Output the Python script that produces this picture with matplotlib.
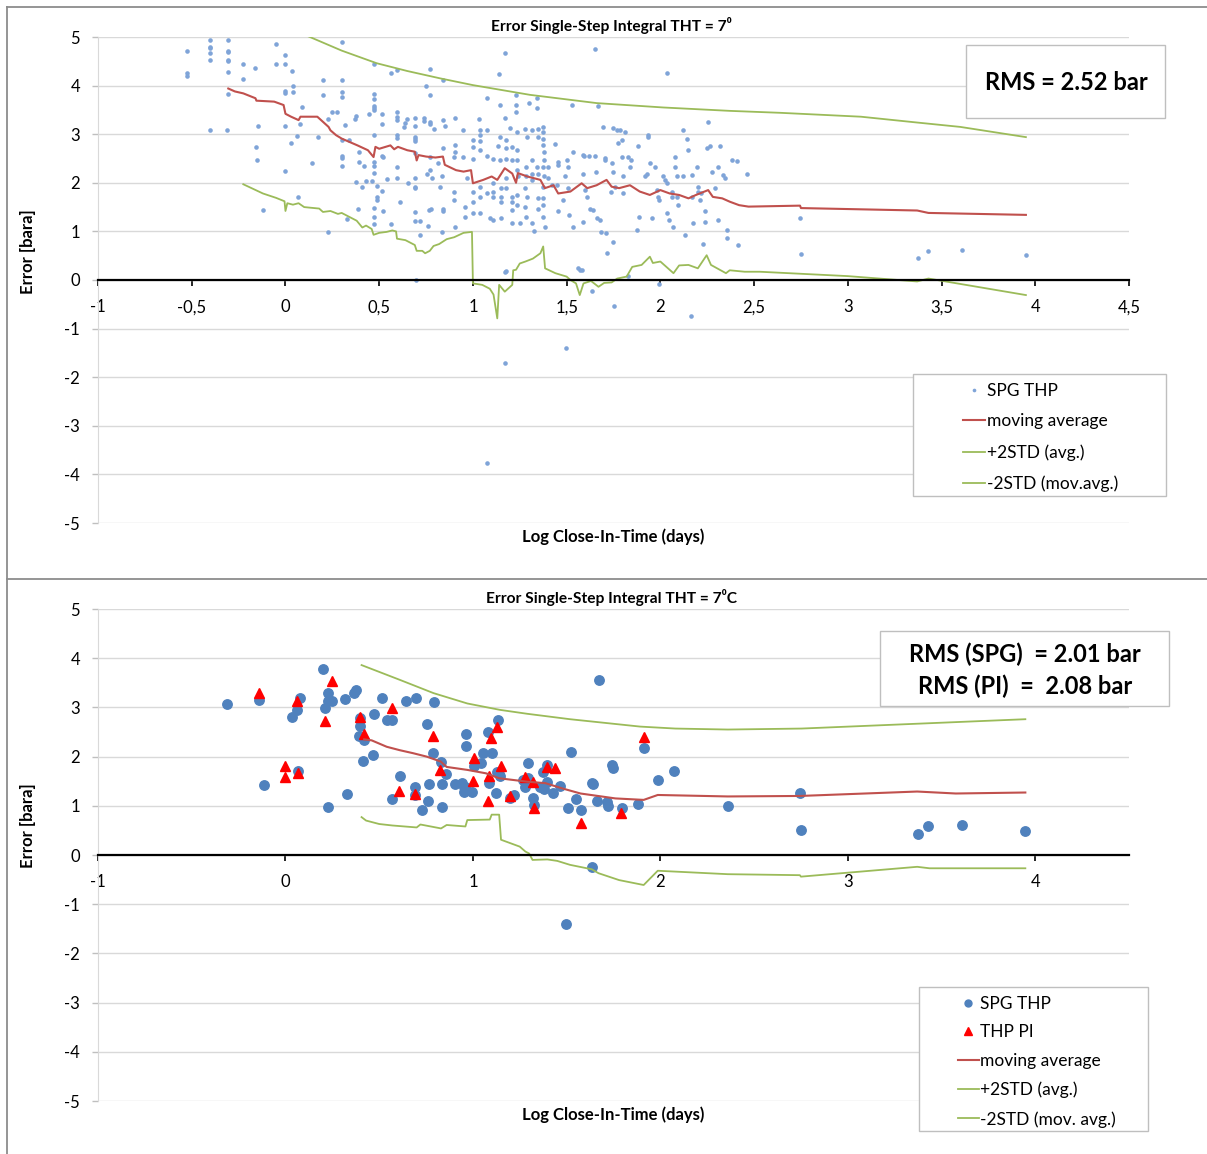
import matplotlib
matplotlib.use('Agg')
import matplotlib.pyplot as plt
from matplotlib.patches import Rectangle
from matplotlib.lines import Line2D

plt.rcParams['font.family'] = ['Lato', 'DejaVu Sans']

# ---- top chart: SPG THP error (all points) ----
top_pts = [
    (-0.525, 4.71), (-0.525, 4.25), (-0.525, 4.20),
    (-0.40, 4.94), (-0.40, 4.80), (-0.40, 4.77), (-0.40, 4.67), (-0.40, 4.53), (-0.40, 3.08),
    (-0.305, 4.94), (-0.305, 4.71), (-0.305, 4.69), (-0.305, 4.53), (-0.305, 4.50), (-0.305, 4.28),
    (-0.305, 3.83), (-0.31, 3.08),
    (-0.225, 4.44), (-0.225, 4.14), (-0.16, 4.37), (-0.155, 2.74), (-0.15, 2.46), (-0.145, 3.17),
    (-0.118, 1.45), (-0.05, 4.85), (-0.05, 4.44), (0.0, 4.63), (0.0, 4.44), (0.0, 3.89), (0.0, 3.85),
    (0.0, 3.17), (0.0, 2.25), (0.036, 4.31), (0.04, 4.0), (0.04, 3.87), (0.03, 2.81), (0.06, 2.96),
    (0.075, 3.21), (0.09, 3.55), (0.065, 1.71), (0.143, 2.41), (0.173, 2.94), (0.2, 4.12), (0.2, 3.81),
    (0.225, 0.99), (0.227, 3.32), (0.25, 3.46), (0.276, 3.46),
    (0.30, 4.89), (0.30, 4.12), (0.30, 3.87), (0.30, 3.76), (0.30, 2.88), (0.30, 2.55), (0.30, 2.52),
    (0.30, 2.35), (0.32, 3.19), (0.328, 1.26), (0.34, 2.88), (0.37, 3.31), (0.376, 3.37), (0.376, 2.01),
    (0.385, 1.47), (0.394, 2.64), (0.394, 2.43), (0.41, 1.92), (0.42, 2.35), (0.428, 2.04), (0.444, 3.42),
    (0.46, 2.03), (0.474, 4.44), (0.474, 3.83), (0.474, 3.73), (0.474, 3.57), (0.474, 3.54), (0.474, 3.50),
    (0.474, 2.98), (0.474, 2.43), (0.474, 2.35), (0.474, 2.20), (0.474, 1.49), (0.474, 1.30), (0.474, 1.15),
    (0.49, 1.65), (0.49, 1.71), (0.49, 1.93), (0.515, 3.42), (0.515, 3.21), (0.515, 2.55), (0.52, 2.54),
    (0.515, 1.83), (0.52, 1.43), (0.54, 2.07), (0.565, 4.25), (0.565, 1.16),
    (0.596, 3.46), (0.596, 3.36), (0.596, 3.29), (0.596, 2.98), (0.596, 2.92), (0.596, 2.33), (0.596, 2.09),
    (0.596, 4.33), (0.61, 1.61), (0.63, 3.15), (0.64, 3.23), (0.65, 3.31), (0.652, 1.99),
    (0.69, 3.33), (0.69, 3.17), (0.69, 2.95), (0.69, 2.85), (0.69, 2.90), (0.69, 2.61), (0.69, 2.09),
    (0.69, 1.92), (0.69, 1.89), (0.69, 1.39), (0.69, 1.21), (0.696, 0.01),
    (0.72, 1.21), (0.72, 0.93), (0.737, 3.33), (0.737, 3.27), (0.748, 3.99), (0.753, 2.18), (0.76, 1.12),
    (0.768, 1.44), (0.775, 1.46), (0.77, 4.34), (0.77, 3.81), (0.77, 3.26), (0.77, 3.22), (0.79, 3.11),
    (0.77, 2.54), (0.77, 2.26), (0.78, 2.09), (0.815, 2.41),
    (0.842, 4.12), (0.842, 2.71), (0.842, 3.29), (0.851, 3.17), (0.833, 2.13), (0.824, 1.92), (0.842, 1.47),
    (0.842, 1.41), (0.833, 0.995), (0.904, 3.33), (0.904, 2.78), (0.904, 2.64), (0.899, 2.54), (0.899, 1.82),
    (0.899, 1.65), (0.904, 1.10), (0.949, 3.09), (0.949, 2.54), (0.958, 1.51), (0.958, 1.30), (0.967, 2.09),
    (0.999, 2.88), (0.999, 2.74), (0.999, 2.50), (0.999, 1.82), (0.999, 1.61), (0.999, 1.37),
    (1.034, 3.31), (1.038, 3.09), (1.038, 2.98), (1.038, 2.85), (1.038, 2.67), (1.038, 1.92), (1.038, 1.71),
    (1.038, 1.37), (1.077, 3.74), (1.077, 3.09), (1.077, 2.55), (1.077, 1.78), (1.091, 1.27),
    (1.109, 2.50), (1.109, 1.99), (1.109, 1.82), (1.109, 1.71), (1.109, 1.23),
    (1.141, 4.23), (1.144, 3.60), (1.144, 2.95), (1.135, 2.76), (1.144, 2.47), (1.148, 1.89), (1.148, 1.71),
    (1.148, 1.61), (1.148, 1.27), (1.171, 4.68), (1.171, 3.33), (1.176, 2.88), (1.176, 2.71), (1.176, 2.50),
    (1.176, 2.09), (1.176, 1.89), (1.176, 0.19), (1.198, 3.12), (1.207, 2.74), (1.207, 2.47), (1.207, 1.71),
    (1.207, 1.61), (1.207, 1.44), (1.207, 1.18), (1.230, 3.81), (1.230, 3.60), (1.230, 3.46), (1.237, 3.05),
    (1.237, 2.67), (1.237, 2.47), (1.237, 2.26), (1.242, 2.13), (1.237, 1.75), (1.237, 1.54), (1.251, 1.17),
    (1.278, 3.10), (1.287, 2.95), (1.283, 2.33), (1.283, 2.13), (1.278, 1.89), (1.287, 1.71), (1.278, 1.51),
    (1.283, 1.30), (1.301, 3.65), (1.313, 3.09), (1.313, 2.47), (1.313, 2.19), (1.313, 2.06), (1.313, 1.17),
    (1.328, 1.01), (1.340, 3.74), (1.340, 3.53), (1.349, 3.10), (1.349, 2.95), (1.343, 2.33), (1.349, 2.19),
    (1.349, 1.68), (1.349, 1.47), (1.376, 3.15), (1.376, 3.05), (1.376, 2.91), (1.376, 2.78), (1.38, 2.64),
    (1.38, 2.47), (1.376, 2.33), (1.38, 2.13), (1.376, 1.92), (1.376, 1.68), (1.376, 1.54), (1.376, 1.30),
    (1.384, 1.10), (1.402, 2.33), (1.402, 2.09), (1.42, 1.95), (1.438, 2.80), (1.447, 1.95), (1.456, 2.43),
    (1.456, 2.37), (1.456, 1.41), (1.482, 1.65), (1.5, 2.47), (1.509, 2.33), (1.491, 2.13), (1.509, 1.89),
    (1.514, 1.34), (1.527, 3.60), (1.536, 2.64), (1.536, 1.10), (1.562, 0.24), (1.571, 0.20),
    (1.585, 2.57), (1.592, 2.55), (1.589, 2.19), (1.589, 1.20), (1.598, 1.85), (1.607, 1.71), (1.621, 2.55),
    (1.624, 1.47), (1.639, 1.44), (1.651, 4.75), (1.651, 2.55), (1.655, 2.23), (1.66, 1.27), (1.669, 3.57),
    (1.678, 1.23), (1.681, 0.995), (1.696, 3.14), (1.704, 2.52), (1.704, 2.47), (1.71, 0.96), (1.713, 0.55),
    (1.736, 1.82), (1.74, 2.40), (1.745, 0.79), (1.749, 3.12), (1.749, 2.23), (1.758, 1.92), (1.767, 3.09),
    (1.784, 3.09), (1.811, 3.05), (1.776, 2.81), (1.793, 2.88), (1.793, 2.54), (1.799, 2.14), (1.799, 1.78),
    (1.829, 2.54), (1.838, 2.33), (1.843, 2.47), (1.873, 1.03), (1.882, 2.76), (1.888, 1.30),
    (1.918, 2.13), (1.927, 2.19), (1.936, 2.98), (1.936, 2.94), (1.944, 2.40), (1.953, 1.27), (1.971, 2.33),
    (1.98, 1.85), (1.987, 1.71), (1.994, 1.65), (2.016, 2.13), (2.024, 2.06), (2.033, 1.99), (2.033, 4.25),
    (2.037, 1.37), (2.048, 1.23), (2.06, 1.82), (2.06, 1.71), (2.069, 1.10), (2.078, 2.54), (2.078, 2.33),
    (2.087, 2.13), (2.087, 1.71), (2.096, 1.54), (2.122, 3.09), (2.122, 2.13), (2.131, 0.93), (2.14, 2.91),
    (2.149, 2.67), (2.167, 2.16), (2.167, 1.71), (2.176, 1.17), (2.193, 2.33), (2.202, 1.92), (2.202, 1.82),
    (2.211, 1.65), (2.215, 1.78), (2.225, 0.75), (2.238, 1.41), (2.238, 1.20), (2.247, 2.71), (2.256, 3.26),
    (2.264, 2.76), (2.273, 2.23), (2.291, 1.89), (2.309, 2.33), (2.309, 1.23), (2.318, 2.76), (2.336, 2.16),
    (2.344, 2.09), (2.353, 1.03), (2.353, 0.86), (2.38, 2.46), (2.407, 2.44), (2.416, 0.72), (2.46, 2.19),
    (2.745, 1.28), (2.748, 0.53), (3.376, 0.45), (3.43, 0.60), (3.607, 0.62), (3.949, 0.51),
    (1.17, -1.70), (1.496, -1.39), (1.077, -3.77), (1.633, -0.23), (1.754, -0.53), (1.83, 0.08),
    (1.994, -0.09), (2.163, -0.74), (1.58, 0.20), (1.17, 0.17),
]
top_x = [p[0] for p in top_pts]
top_y = [p[1] for p in top_pts]

top_ma = [
    (-0.305, 3.94), (-0.27, 3.88), (-0.225, 3.84), (-0.16, 3.74), (-0.155, 3.69), (-0.06, 3.67),
    (-0.01, 3.60), (0.0, 3.42), (0.03, 3.36), (0.07, 3.29), (0.08, 3.36), (0.17, 3.36), (0.23, 3.15),
    (0.24, 3.08), (0.27, 2.98), (0.30, 2.91), (0.384, 2.77), (0.44, 2.67), (0.47, 2.53), (0.48, 2.74),
    (0.50, 2.70), (0.56, 2.77), (0.58, 2.69), (0.60, 2.74), (0.65, 2.67), (0.69, 2.64), (0.70, 2.46),
    (0.71, 2.57), (0.75, 2.54), (0.80, 2.52), (0.84, 2.54), (0.85, 2.37), (0.91, 2.26), (0.95, 2.23),
    (0.99, 2.26), (1.0, 1.99), (1.055, 2.06), (1.10, 2.13), (1.13, 2.06), (1.17, 2.30), (1.21, 2.19),
    (1.23, 2.0), (1.24, 2.20), (1.29, 2.13), (1.36, 2.06), (1.384, 1.89), (1.43, 1.95), (1.455, 1.78),
    (1.52, 1.82), (1.58, 1.99), (1.61, 1.89), (1.66, 1.95), (1.713, 2.06), (1.74, 1.92), (1.78, 1.89),
    (1.838, 1.95), (1.89, 1.82), (1.944, 1.75), (2.0, 1.85), (2.05, 1.78), (2.10, 1.75), (2.15, 1.68),
    (2.19, 1.75), (2.255, 1.85), (2.28, 1.71), (2.33, 1.68), (2.371, 1.61), (2.42, 1.54), (2.47, 1.51),
    (2.745, 1.53), (2.75, 1.48), (3.37, 1.43), (3.43, 1.38), (3.95, 1.34),
]
top_up = [
    (0.10, 5.05), (0.30, 4.72), (0.487, 4.46), (0.65, 4.30), (0.824, 4.15), (1.0, 4.01), (1.304, 3.81),
    (1.66, 3.64), (2.015, 3.55), (2.371, 3.48), (2.64, 3.44), (3.07, 3.36), (3.37, 3.24), (3.60, 3.15),
    (3.95, 2.94),
]
top_lo = [
    (-0.225, 1.97), (-0.12, 1.78), (-0.05, 1.69), (-0.005, 1.62), (0.0, 1.42), (0.01, 1.58), (0.04, 1.55),
    (0.07, 1.58), (0.10, 1.50), (0.18, 1.47), (0.20, 1.40), (0.24, 1.42), (0.28, 1.36), (0.30, 1.38),
    (0.34, 1.30), (0.38, 1.22), (0.41, 1.08), (0.43, 1.12), (0.46, 1.05), (0.47, 0.93), (0.50, 0.97),
    (0.54, 0.99), (0.57, 1.02), (0.59, 1.0), (0.595, 0.85), (0.64, 0.82), (0.69, 0.72), (0.70, 0.60),
    (0.73, 0.60), (0.745, 0.55), (0.77, 0.60), (0.79, 0.70), (0.82, 0.74), (0.86, 0.84), (0.90, 0.88),
    (0.95, 0.97), (0.995, 0.99), (1.0, -0.07), (1.05, -0.10), (1.09, -0.18), (1.11, -0.30), (1.13, -0.79),
    (1.14, -0.10), (1.17, -0.24), (1.21, -0.10), (1.215, 0.20), (1.23, 0.21), (1.25, 0.34), (1.28, 0.38),
    (1.32, 0.44), (1.36, 0.55), (1.375, 0.69), (1.385, 0.24), (1.44, 0.14), (1.50, 0.07), (1.52, 0.0),
    (1.55, -0.07), (1.57, -0.31), (1.59, -0.07), (1.63, -0.02), (1.67, -0.14), (1.70, -0.06), (1.74, -0.05),
    (1.77, 0.03), (1.82, 0.07), (1.85, 0.27), (1.90, 0.31), (1.944, 0.48), (1.96, 0.35), (2.0, 0.38),
    (2.07, 0.14), (2.10, 0.30), (2.15, 0.31), (2.20, 0.24), (2.247, 0.51), (2.27, 0.31), (2.35, 0.14),
    (2.37, 0.20), (2.45, 0.17), (2.53, 0.17), (3.0, 0.08), (3.37, -0.03), (3.43, 0.03), (3.95, -0.31),
]

# ---- bottom chart: SPG THP and THP PI ----
bot_spg = [
    (-0.31, 3.07), (-0.143, 3.15), (-0.113, 1.43), (0.033, 2.80), (0.063, 2.94), (0.077, 3.20), (0.065, 1.71),
    (0.20, 3.79), (0.228, 3.29), (0.228, 3.13), (0.25, 3.14), (0.21, 2.98), (0.228, 0.98), (0.32, 3.18),
    (0.328, 1.25), (0.366, 3.29), (0.375, 3.35), (0.397, 2.79), (0.397, 2.63), (0.39, 2.42), (0.42, 2.34),
    (0.413, 1.91), (0.465, 2.03), (0.474, 2.87), (0.516, 3.20), (0.54, 2.75), (0.57, 2.75), (0.567, 1.14),
    (0.611, 1.60), (0.643, 3.12), (0.696, 3.20), (0.69, 1.39), (0.69, 1.22), (0.727, 0.91), (0.767, 1.44),
    (0.762, 1.10), (0.753, 2.66), (0.794, 3.11), (0.787, 2.08), (0.828, 1.89), (0.855, 1.65), (0.837, 1.44),
    (0.837, 0.98), (0.904, 1.44), (0.94, 1.47), (0.95, 1.39), (0.95, 1.29), (0.96, 1.39), (0.961, 2.46),
    (0.961, 2.22), (0.997, 1.29), (1.007, 1.81), (1.041, 1.88), (1.052, 2.08), (1.079, 2.51), (1.10, 2.07),
    (1.132, 2.75), (1.087, 1.47), (1.121, 1.27), (1.128, 1.68), (1.14, 1.65), (1.145, 1.60), (1.219, 1.22),
    (1.278, 1.38), (1.295, 1.88), (1.20, 1.15), (1.266, 1.52), (1.294, 1.56), (1.318, 1.15), (1.325, 1.02),
    (1.359, 1.39), (1.378, 1.35), (1.372, 1.69), (1.393, 1.83), (1.397, 1.49), (1.428, 1.27), (1.462, 1.41),
    (1.509, 0.96), (1.524, 2.09), (1.552, 1.13), (1.574, 0.91), (1.634, -0.24), (1.636, 1.47), (1.64, 1.44),
    (1.662, 1.10), (1.67, 3.55), (1.715, 1.08), (1.718, 0.99), (1.743, 1.83), (1.748, 1.77), (1.793, 0.95),
    (1.879, 1.03), (1.915, 2.17), (1.986, 1.52), (2.074, 1.71), (2.36, 1.0), (2.744, 1.27), (2.749, 0.51),
    (3.374, 0.43), (3.43, 0.58), (3.608, 0.60), (3.947, 0.49), (1.497, -1.40),
]
bot_pi = [
    (-0.143, 3.29), (0.0, 1.81), (0.0, 1.59), (0.063, 3.14), (0.067, 1.67), (0.209, 2.72), (0.25, 3.53),
    (0.397, 2.80), (0.42, 2.45), (0.567, 2.99), (0.607, 1.31), (0.689, 1.25), (0.785, 2.42), (0.826, 1.73),
    (0.998, 1.51), (1.006, 1.97), (1.082, 1.10), (1.086, 1.61), (1.098, 2.38), (1.128, 2.60), (1.15, 1.81),
    (1.198, 1.19), (1.278, 1.59), (1.318, 1.49), (1.325, 0.95), (1.397, 1.79), (1.438, 1.76), (1.574, 0.66),
    (1.79, 0.86), (1.915, 2.39),
]
bot_ma = [
    (0.42, 2.35), (0.46, 2.33), (0.54, 2.20), (0.61, 2.13), (0.68, 2.07), (0.753, 2.0), (0.828, 1.90),
    (0.86, 1.79), (0.97, 1.73), (1.07, 1.66), (1.14, 1.56), (1.29, 1.49), (1.387, 1.46), (1.48, 1.35),
    (1.574, 1.25), (1.76, 1.15), (1.911, 1.12), (1.986, 1.22), (2.36, 1.19), (2.744, 1.20), (3.37, 1.29),
    (3.576, 1.25), (3.947, 1.27),
]
bot_up = [
    (0.406, 3.86), (0.61, 3.56), (0.79, 3.29), (0.97, 3.08), (1.144, 2.95), (1.29, 2.87), (1.518, 2.76),
    (1.892, 2.61), (2.08, 2.57), (2.36, 2.55), (2.753, 2.57), (3.947, 2.76),
]
bot_lo = [
    (0.406, 0.77), (0.43, 0.70), (0.50, 0.63), (0.57, 0.60), (0.70, 0.56), (0.72, 0.62), (0.83, 0.54),
    (0.86, 0.61), (0.96, 0.58), (0.97, 0.71), (1.09, 0.72), (1.10, 0.82), (1.14, 0.82), (1.15, 0.31),
    (1.25, 0.17), (1.28, 0.07), (1.30, 0.03), (1.318, -0.10), (1.397, -0.09), (1.45, -0.12), (1.518, -0.20),
    (1.634, -0.29), (1.67, -0.37), (1.78, -0.51), (1.911, -0.61), (1.986, -0.32), (2.36, -0.39),
    (2.744, -0.41), (2.75, -0.44), (3.37, -0.24), (3.436, -0.27), (3.947, -0.27),
]

top_xticks = [-1, -0.5, 0, 0.5, 1, 1.5, 2, 2.5, 3, 3.5, 4, 4.5]
bot_xticks = [-1, 0, 1, 2, 3, 4]
yticks = [-5, -4, -3, -2, -1, 0, 1, 2, 3, 4, 5]

c_top = '#7fa4d8'
c_blue = '#4f81bd'
c_red = '#c0504d'
c_green = '#9bbb59'

W, H = 1207, 1154
fig = plt.figure(figsize=(W / 100, H / 100), dpi=100)


def fx(px):
    return px / W


def fy(py):
    return 1 - py / H


def xs(pts):
    return [p[0] for p in pts]


def ys(pts):
    return [p[1] for p in pts]


def setup(ax, xticks):
    ax.set_xlim(-1, 4.5)
    ax.set_ylim(-5, 5)
    ax.set_xticks(xticks)
    ax.set_xticklabels([f'{t:g}'.replace('.', ',') for t in xticks])
    ax.set_yticks(yticks)
    ax.set_yticklabels([f'{t:g}' for t in yticks])
    ax.yaxis.grid(True, color='#d9d9d9', lw=1)
    ax.set_axisbelow(True)
    for s in ['top', 'right']:
        ax.spines[s].set_visible(False)
    ax.spines['left'].set_color('#d9d9d9')
    ax.spines['bottom'].set_position(('data', 0))
    ax.spines['bottom'].set_color('black')
    ax.spines['bottom'].set_linewidth(1.6)
    ax.spines['bottom'].set_zorder(4)
    ax.tick_params(axis='x', direction='out', length=4, width=1.2, color='black', pad=10, labelsize=12)
    ax.tick_params(axis='y', direction='out', length=4, width=1, color='#bfbfbf', pad=9, labelsize=12)


def box(x0, y0, x1, y1):
    fig.add_artist(Rectangle((fx(x0), fy(y1)), fx(x1) - fx(x0), fy(y0) - fy(y1),
                             transform=fig.transFigure, fc='white', ec='#bfbfbf', lw=1))


# frame lines around the two charts
for seg in [((7, 7), (7, H)), ((7, W), (7, 7)), ((7, W), (579, 579))]:
    fig.add_artist(Line2D([fx(v) for v in seg[0]], [fy(v) for v in seg[1]],
                          transform=fig.transFigure, color='#8c8c8c', lw=1.3))

# ---- top ----
ax1 = fig.add_axes([fx(98), fy(523), fx(1129) - fx(98), fy(37) - fy(523)])
setup(ax1, top_xticks)
ax1.plot(top_x, top_y, ls='none', marker='o', ms=3.3, color=c_top, mec='none', label='SPG THP')
ax1.plot(xs(top_ma), ys(top_ma), color=c_red, lw=1.5, label='moving average')
ax1.plot(xs(top_up), ys(top_up), color=c_green, lw=1.3, label='+2STD (avg.)')
ax1.plot(xs(top_lo), ys(top_lo), color=c_green, lw=1.3, label='-2STD (mov.avg.)')

fig.text(fx(611), fy(25), 'Error Single-Step Integral THT = 7\u2070', ha='center', va='center',
         fontsize=11.2, weight='bold')
fig.text(fx(28), fy(252), 'Error [bara]', rotation=90, ha='center', va='center', fontsize=12, weight='bold')
fig.text(fx(613), fy(537), 'Log Close-In-Time (days)', ha='center', va='center', fontsize=12, weight='bold')

box(966, 45, 1165, 118)
fig.text(fx(1066), fy(82), 'RMS = 2.52 bar', ha='center', va='center', fontsize=17, weight='bold')

box(913, 374, 1166, 496)
h1, l1 = ax1.get_legend_handles_labels()
fig.legend(h1, l1, loc='upper left', bbox_to_anchor=(fx(954), fy(374)), frameon=False, borderpad=0,
           handlelength=1.3, handletextpad=0.1, labelspacing=0.85, fontsize=12.5, markerscale=0.8)

# ---- bottom ----
ax2 = fig.add_axes([fx(98), fy(1101), fx(1129) - fx(98), fy(609) - fy(1101)])
setup(ax2, bot_xticks)
ax2.plot(xs(bot_spg), ys(bot_spg), ls='none', marker='o', ms=6.8, color=c_blue, mec=c_blue,
         label='SPG THP')
ax2.plot(xs(bot_pi), ys(bot_pi), ls='none', marker='^', ms=7.5, color='red', mec='red', label='THP PI')
ax2.plot(xs(bot_ma), ys(bot_ma), color=c_red, lw=1.5, label='moving average')
ax2.plot(xs(bot_up), ys(bot_up), color=c_green, lw=1.3, label='+2STD (avg.)')
ax2.plot(xs(bot_lo), ys(bot_lo), color=c_green, lw=1.3, label='-2STD (mov. avg.)')

fig.text(fx(611), fy(597), 'Error Single-Step Integral THT = 7\u2070C', ha='center', va='center',
         fontsize=11.2, weight='bold')
fig.text(fx(28), fy(826), 'Error [bara]', rotation=90, ha='center', va='center', fontsize=12, weight='bold')
fig.text(fx(613), fy(1115), 'Log Close-In-Time (days)', ha='center', va='center', fontsize=12,
         weight='bold')

box(880, 631, 1169, 706)
fig.text(fx(1025), fy(654), 'RMS (SPG)  = 2.01 bar', ha='center', va='center', fontsize=17, weight='bold')
fig.text(fx(1025), fy(686), 'RMS (PI)  =  2.08 bar', ha='center', va='center', fontsize=17, weight='bold')

box(919, 987, 1148, 1131)
h2 = [Line2D([], [], ls='none', marker='o', ms=5, color=c_blue),
      Line2D([], [], ls='none', marker='^', ms=5.5, color='red'),
      Line2D([], [], color=c_red, lw=1.5),
      Line2D([], [], color=c_green, lw=1.3),
      Line2D([], [], color=c_green, lw=1.3)]
l2 = [h.get_label() for h in ax2.get_lines()]
fig.legend(h2, l2, loc='upper left', bbox_to_anchor=(fx(949), fy(987)), frameon=False, borderpad=0,
           handlelength=1.2, handletextpad=0.1, labelspacing=0.73, fontsize=12.5)

fig.savefig('out.png', dpi=100)
